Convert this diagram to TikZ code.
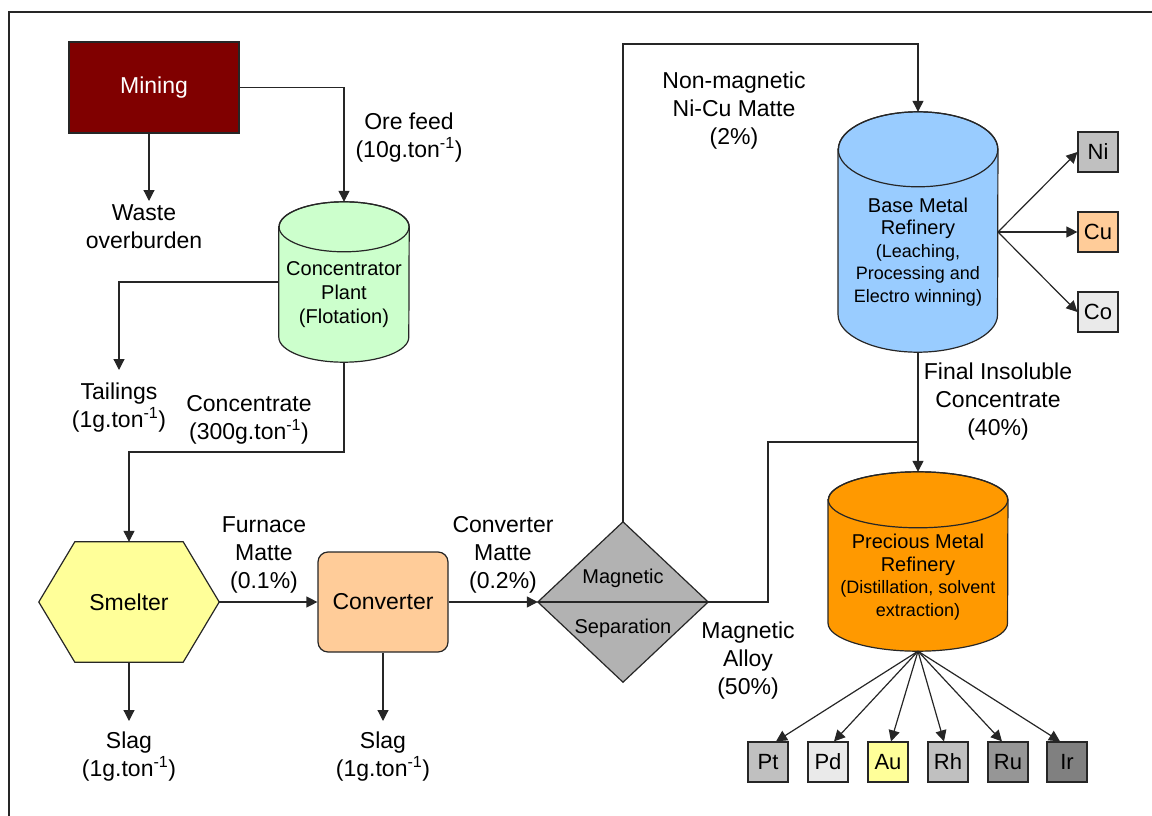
\documentclass[tikz,border=0pt]{standalone}
\usepackage{fontspec}
\setmainfont{Liberation Sans}
\usetikzlibrary{arrows.meta,backgrounds,calc}

\definecolor{minered}{HTML}{800000}
\definecolor{concgreen}{HTML}{CCFFCC}
\definecolor{smeltyellow}{HTML}{FFFF99}
\definecolor{convpeach}{HTML}{FFCC99}
\definecolor{sepgray}{HTML}{B2B2B2}
\definecolor{bmrblue}{HTML}{99CCFF}
\definecolor{pmrorange}{HTML}{FF9900}
\definecolor{silvergray}{HTML}{C0C0C0}
\definecolor{palegray}{HTML}{EAEAEA}
\definecolor{midgray}{HTML}{969696}
\definecolor{darkgray}{HTML}{808080}

% vertical cylinder drawn round an empty node: #1 node, #2 x radius, #3 y radius, #4 fill
\newcommand\drawcyl[4]{%
  \path[line, fill=#4] ([yshift=-#3]#1.north west) -- ([yshift=#3]#1.south west)
    arc[start angle=180, end angle=360, x radius=#2, y radius=#3]
    -- ([yshift=-#3]#1.north east)
    arc[start angle=0, end angle=180, x radius=#2, y radius=#3] -- cycle;
  \draw[line] ([yshift=-#3]#1.north) ellipse [x radius=#2, y radius=#3];
}
% larger type for the refinery titles
\newcommand\titlesize{\fontsize{20}{23}\selectfont}

\begin{document}
\begin{tikzpicture}[x=1pt, y=-1pt,
  line/.style={draw=black!85, line width=1.2pt},
  arr/.style={line, -{Triangle[length=11pt,width=11pt]}},
  lbl/.style={align=center, inner sep=0pt, font=\fontsize{23}{28}\selectfont},
  inlbl/.style={align=center, inner sep=0pt, font=\fontsize{20}{24}\selectfont},
  reftext/.style={align=center, inner sep=0pt, font=\fontsize{18}{22.5}\selectfont},
  holder/.style={inner sep=0pt, minimum width=#1},
  metal/.style={line, minimum width=40pt, minimum height=40pt, inner sep=0pt,
    font=\fontsize{22}{26}\selectfont},
]
\useasboundingbox (0,0) rectangle (1152,816);

% outer frame
\draw[line width=1.4pt, draw=black!85] (9,816) -- (9,12) -- (1152,12);

% ---- left branch: mining, concentrator, smelter, converter ----
\node[line, fill=minered, text=white, minimum width=170pt, minimum height=91pt,
  font=\fontsize{23}{28}\selectfont] (mining) at (154,87.5) {Mining};

\node[holder=130pt, minimum height=160pt] (conc) at (344,282) {};
\drawcyl{conc}{65pt}{25pt}{concgreen}
\node[inlbl] (conctext) at (344,295) {Concentrator\\Plant\\(Flotation)};

\node[holder=180pt, minimum height=120pt, font=\fontsize{23}{28}\selectfont] (smelt) at (129,602) {Smelter};
\begin{scope}[on background layer]
  \path[line, fill=smeltyellow] (smelt.west) -- ([xshift=36pt]smelt.north west)
    -- ([xshift=-36pt]smelt.north east) -- (smelt.east)
    -- ([xshift=-36pt]smelt.south east) -- ([xshift=36pt]smelt.south west) -- cycle;
\end{scope}

\node[line, fill=convpeach, rounded corners=10pt, minimum width=130pt, minimum height=100pt,
  font=\fontsize{23}{28}\selectfont] (conv) at (383,602) {Converter};

% magnetic separation diamond
\node[holder=170pt, minimum height=160pt] (sep) at (623,602) {};
\path[line, fill=sepgray] (sep.west) -- (sep.north) -- (sep.east) -- (sep.south) -- cycle;
\draw[line] (sep.west) -- (sep.east);
\node[inlbl] (sepA) at (623,578) {Magnetic};
\node[inlbl] (sepB) at (623,628) {Separation};

% ---- refineries ----
\node[holder=159.5pt, minimum height=240pt] (bmr) at (918,232) {};
\drawcyl{bmr}{79.75pt}{37.5pt}{bmrblue}
\node[reftext] (bmrtext) at (918,252)
  {\titlesize Base Metal\\\titlesize Refinery\\(Leaching,\\Processing and\\Electro winning)};

\node[holder=179.5pt, minimum height=179pt] (pmr) at (918,561.5) {};
\drawcyl{pmr}{89.75pt}{28pt}{pmrorange}
\node[reftext] (pmrtext) at (918,577)
  {\titlesize Precious Metal\\\titlesize Refinery\\(Distillation, solvent\\extraction)};

% ---- product boxes ----
\node[metal, fill=silvergray] (ni) at (1098,152) {Ni};
\node[metal, fill=convpeach]  (cu) at (1098,232) {Cu};
\node[metal, fill=palegray]   (co) at (1098,312) {Co};

\node[metal, fill=silvergray]  (pt) at (768,762) {Pt};
\node[metal, fill=palegray]    (pd) at (828,762) {Pd};
\node[metal, fill=smeltyellow] (au) at (888,762) {Au};
\node[metal, fill=silvergray]  (rh) at (948,762) {Rh};
\node[metal, fill=midgray]     (ru) at (1008,762) {Ru};
\node[metal, fill=darkgray]    (ir) at (1067,762) {Ir};

% ---- stream labels ----
\node[lbl] (waste) at (144,227) {Waste\\overburden};
\node[lbl] (orefeed) at (409,137.5) {Ore feed\\(10g.ton\textsuperscript{-1})};
\node[lbl] (tail) at (119,407.5) {Tailings\\(1g.ton\textsuperscript{-1})};
\node[lbl] (concl) at (249,420) {Concentrate\\(300g.ton\textsuperscript{-1})};
\node[lbl] (furn) at (264,555) {Furnace\\Matte\\(0.1\%)};
\node[lbl] (convm) at (503,555) {Converter\\Matte\\(0.2\%)};
\node[lbl] (slagA) at (129,757) {Slag\\(1g.ton\textsuperscript{-1})};
\node[lbl] (slagB) at (383,757) {Slag\\(1g.ton\textsuperscript{-1})};
\node[lbl] (nonmag) at (734,111) {Non-magnetic\\Ni-Cu Matte\\(2\%)};
\node[lbl] (finins) at (998,401.5) {Final Insoluble\\Concentrate\\(40\%)};
\node[lbl] (magal) at (748,661) {Magnetic\\Alloy\\(50\%)};

% ---- connectors ----
\coordinate (wastetip) at (149,201);
\coordinate (tailtip) at (119,370);
\coordinate (slagAtip) at (129,721);
\coordinate (slagBtip) at (383,721);
\coordinate (concturn) at (344,452);
\coordinate (nmturn) at (623,44);
\coordinate (alloyturn) at (768,442);
\coordinate (join) at (918,442);

\draw[arr] ([xshift=-5pt]mining.south) -- (wastetip);
\draw[arr] (mining.east) -| (conc.north);
\draw[arr] (conc.west) -| (tailtip);
\draw[arr] (conc.south) -- (concturn) -| (smelt.north);
\draw[arr] (smelt.south) -- (slagAtip);
\draw[arr] (smelt.east) -- (conv.west);
\draw[arr] (conv.south) -- (slagBtip);
\draw[arr] (conv.east) -- (sep.west);
\draw[arr] (sep.north) -- (nmturn) -| (bmr.north);
\draw[arr] (bmr.south) -- (pmr.north);
\draw[line] (sep.east) -| (alloyturn) -- (join);

\foreach \m in {ni,cu,co}
  \draw[arr] (bmr.east) -- (\m.west);
\foreach \m/\s in {pt/8,pd/6,au/3,rh/-4,ru/-6,ir/-7}
  \draw[arr] (pmr.south) -- ([xshift=\s pt]\m.north);

\end{tikzpicture}
\end{document}
